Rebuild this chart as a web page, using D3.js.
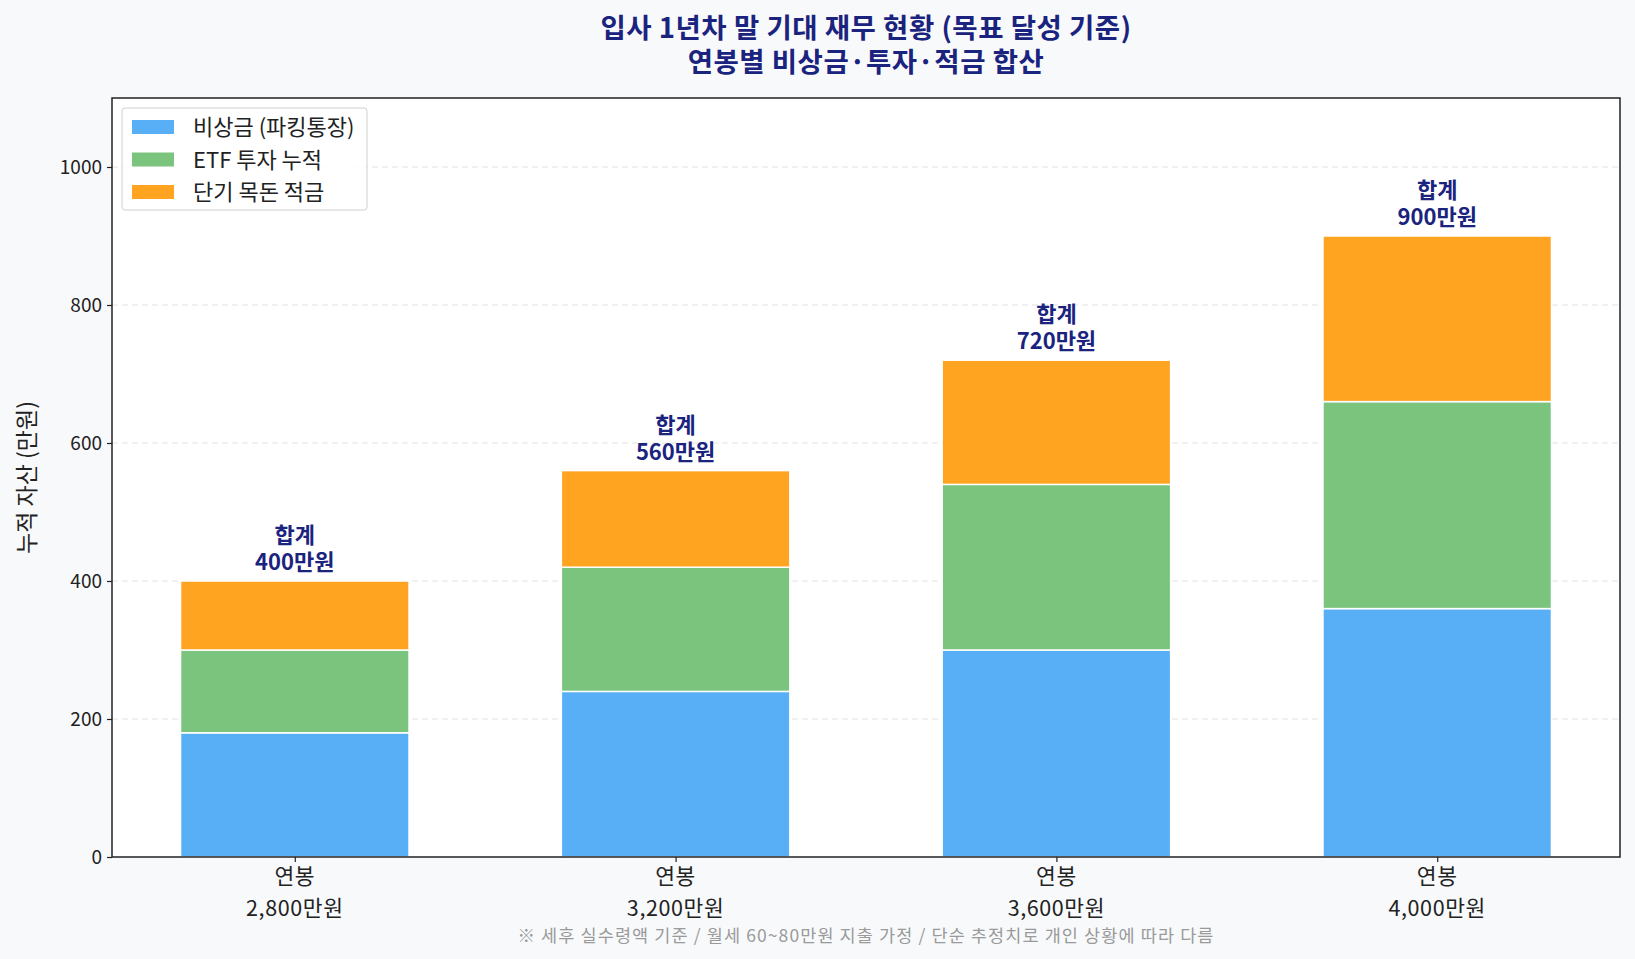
<!DOCTYPE html>
<html>
<head>
<meta charset="utf-8">
<script src="https://cdn.jsdelivr.net/npm/d3@7"></script>
<style>
  body { margin: 0; background: #f8f9fa; }
  svg { display: block; font-family: "Noto Sans CJK KR", "Noto Sans", sans-serif; }
</style>
</head>
<body>
<div id="chart"></div>
<script>
// Data
var salaries = ['2,800만원', '3,200만원', '3,600만원', '4,000만원'];
var emergency = [180, 240, 300, 360];   // 비상금 (파킹통장)
var etf = [120, 180, 240, 300];         // ETF 투자 누적
var savings = [100, 140, 180, 240];     // 단기 목돈 적금
var seriesNames = ['비상금 (파킹통장)', 'ETF 투자 누적', '단기 목돈 적금'];
var yTicks = [0, 200, 400, 600, 800, 1000];

var width = 1635,
    height = 959,
    plotLeft = 112,
    plotRight = 1620,
    plotTop = 98,
    plotBottom = 857,
    colors = ['#58aff6', '#7bc47e', '#ffa420'],
    navy = '#1a237e';

var svg = d3.select('#chart').append('svg')
    .attr('width', width)
    .attr('height', height);

svg.append('rect')
    .attr('width', width).attr('height', height)
    .attr('fill', '#f8f9fa');

// Plot area
svg.append('rect')
    .attr('x', plotLeft).attr('y', plotTop)
    .attr('width', plotRight - plotLeft).attr('height', plotBottom - plotTop)
    .attr('fill', '#ffffff');

var x = d3.scaleLinear().domain([-0.48, 3.48]).range([plotLeft, plotRight]),
    y = d3.scaleLinear().domain([0, 1100]).range([plotBottom, plotTop]),
    barWidth = 0.6;

// Grid
svg.append('g')
    .selectAll('line')
    .data(yTicks.slice(1))
    .enter().append('line')
    .attr('x1', plotLeft).attr('x2', plotRight)
    .attr('y1', function (d) { return y(d); })
    .attr('y2', function (d) { return y(d); })
    .attr('stroke', '#e2e2e2')
    .attr('stroke-width', 1)
    .attr('stroke-dasharray', '6,4');

// Stacked bars
var rows = salaries.map(function (s, i) {
    return { idx: i, a: emergency[i], b: etf[i], c: savings[i] };
});
var stacked = d3.stack().keys(['a', 'b', 'c'])(rows);

svg.append('g')
    .selectAll('g')
    .data(stacked)
    .enter().append('g')
    .attr('fill', function (d, i) { return colors[i]; })
    .selectAll('rect')
    .data(function (d) { return d; })
    .enter().append('rect')
    .attr('x', function (d) { return x(d.data.idx - barWidth / 2); })
    .attr('width', function (d) { return x(barWidth) - x(0); })
    .attr('y', function (d) { return y(d[1]); })
    .attr('height', function (d) { return y(d[0]) - y(d[1]); })
    .attr('stroke', '#ffffff')
    .attr('stroke-width', 1.5);

// Total labels
var totals = rows.map(function (r) { return r.a + r.b + r.c; });
var labels = svg.append('g')
    .selectAll('text')
    .data(totals)
    .enter().append('text')
    .attr('text-anchor', 'middle')
    .attr('fill', navy)
    .attr('font-size', '22px')
    .attr('font-weight', 'bold');
labels.append('tspan')
    .attr('x', function (d, i) { return x(i); })
    .attr('y', function (d) { return y(d) - 38; })
    .text('합계');
labels.append('tspan')
    .attr('x', function (d, i) { return x(i); })
    .attr('y', function (d) { return y(d) - 11; })
    .text(function (d) { return d + '만원'; });

// Y axis
var yAxis = svg.append('g')
    .attr('transform', 'translate(' + plotLeft + ',0)')
    .call(d3.axisLeft(y).tickValues(yTicks).tickFormat(d3.format('d'))
        .tickSize(5).tickPadding(5));
yAxis.select('.domain').remove();
yAxis.selectAll('text')
    .attr('font-size', '19px')
    .attr('fill', '#222')
    .style('font-family', '"Noto Sans CJK KR", sans-serif');
yAxis.selectAll('line').attr('stroke', '#222').attr('stroke-width', 1.2);

// X axis
var xAxis = svg.append('g')
    .attr('transform', 'translate(0,' + plotBottom + ')')
    .call(d3.axisBottom(x).tickValues([0, 1, 2, 3]).tickSize(5).tickFormat(''));
xAxis.select('.domain').remove();
xAxis.selectAll('line').attr('stroke', '#222').attr('stroke-width', 1.2);

var xl = svg.append('g')
    .selectAll('text')
    .data(salaries)
    .enter().append('text')
    .attr('text-anchor', 'middle')
    .attr('fill', '#222')
    .attr('font-size', '21.5px')
    .attr('letter-spacing', '0.6px');
xl.append('tspan')
    .attr('x', function (d, i) { return x(i); })
    .attr('y', plotBottom + 27)
    .text('연봉');
xl.append('tspan')
    .attr('x', function (d, i) { return x(i); })
    .attr('y', plotBottom + 59)
    .text(function (d) { return d; });

// Frame
svg.append('rect')
    .attr('x', plotLeft).attr('y', plotTop)
    .attr('width', plotRight - plotLeft).attr('height', plotBottom - plotTop)
    .attr('fill', 'none')
    .attr('stroke', '#222')
    .attr('stroke-width', 1.5);

// Y label
svg.append('text')
    .attr('transform', 'translate(35,' + ((plotTop + plotBottom) / 2) + ') rotate(-90)')
    .attr('text-anchor', 'middle')
    .attr('font-size', '23px')
    .attr('fill', '#222')
    .text('누적 자산 (만원)');

// Title
var title = svg.append('text')
    .attr('text-anchor', 'middle')
    .attr('font-size', '27.5px')
    .attr('letter-spacing', '0.5px')
    .attr('font-weight', 'bold')
    .attr('fill', navy);
title.append('tspan')
    .attr('x', (plotLeft + plotRight) / 2).attr('y', 38)
    .text('입사 1년차 말 기대 재무 현황 (목표 달성 기준)');
title.append('tspan')
    .attr('x', (plotLeft + plotRight) / 2).attr('y', 72)
    .text('연봉별 비상금·투자·적금 합산');

// Footnote
svg.append('text')
    .attr('x', 866).attr('y', 942)
    .attr('text-anchor', 'middle')
    .attr('font-size', '17.5px')
    .attr('letter-spacing', '1.1px')
    .attr('fill', '#9a9a9a')
    .text('※ 세후 실수령액 기준 / 월세 60~80만원 지출 가정 / 단순 추정치로 개인 상황에 따라 다름');

// Legend
var legend = svg.append('g').attr('transform', 'translate(122,108)');
legend.append('rect')
    .attr('width', 245).attr('height', 102)
    .attr('rx', 3)
    .attr('fill', '#ffffff')
    .attr('fill-opacity', 0.85)
    .attr('stroke', '#d0d0d0');
var item = legend.selectAll('g.item')
    .data(seriesNames)
    .enter().append('g')
    .attr('class', 'item')
    .attr('transform', function (d, i) { return 'translate(10,' + (19 + i * 32.5) + ')'; });
item.append('rect')
    .attr('y', -7).attr('width', 42).attr('height', 14)
    .attr('fill', function (d, i) { return colors[i]; });
item.append('text')
    .attr('x', 61).attr('y', 8)
    .attr('font-size', '22px')
    .attr('fill', '#222')
    .text(function (d) { return d; });
</script>
</body>
</html>
